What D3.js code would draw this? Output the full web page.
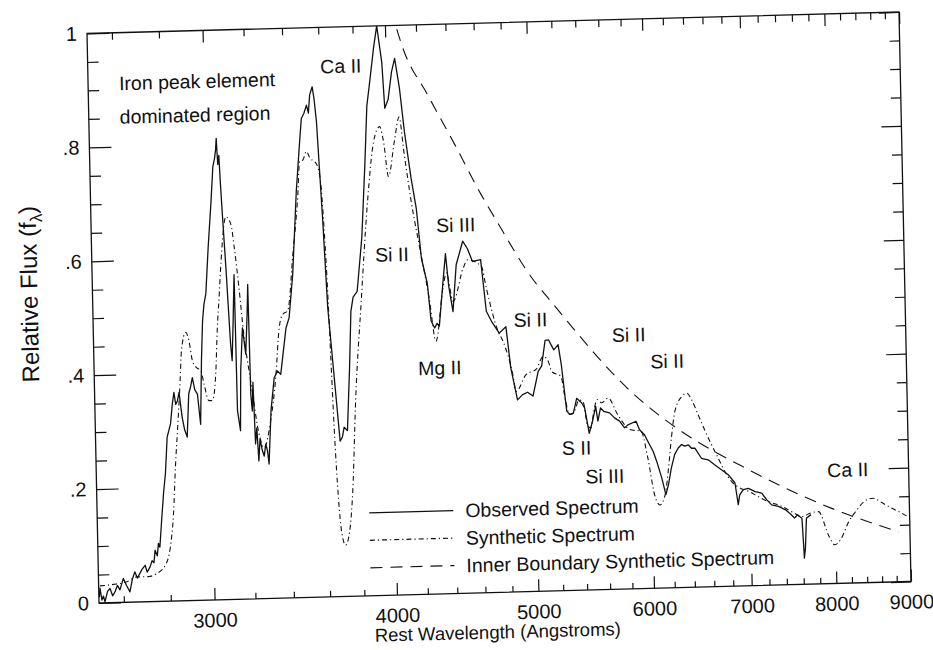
<!DOCTYPE html>
<html>
<head>
<meta charset="utf-8">
<script src="https://cdn.jsdelivr.net/npm/d3@7"></script>
<style>
  body { margin: 0; background: #fff; }
  text { font-family: "Liberation Sans", Arial, Helvetica, sans-serif; fill: #111; }
</style>
</head>
<body>
<svg id="chart" width="933" height="650"></svg>
<script>
// Observed spectrum [wavelength (A), relative flux]
const observed = [
  [2502,0.010],[2505,0.026],[2512,0.005],[2518,0.012],[2524,0.002],[2535,0.020],[2545,0.025],[2555,0.012],
  [2565,0.019],[2575,0.030],[2585,0.022],[2600,0.042],[2612,0.030],[2626,0.018],[2637,0.040],[2648,0.053],
  [2658,0.042],[2669,0.050],[2680,0.058],[2692,0.064],[2700,0.052],[2713,0.061],[2722,0.072],[2730,0.068],
  [2736,0.090],[2745,0.080],[2751,0.102],[2757,0.095],[2767,0.142],[2778,0.190],[2788,0.224],[2799,0.288],
  [2815,0.311],[2825,0.346],[2833,0.366],[2840,0.345],[2848,0.351],[2856,0.366],[2868,0.322],[2878,0.300],
  [2889,0.287],[2900,0.363],[2909,0.375],[2918,0.391],[2928,0.370],[2940,0.362],[2952,0.309],[2962,0.420],
  [2971,0.490],[2979,0.519],[2989,0.537],[3005,0.620],[3023,0.700],[3035,0.760],[3044,0.775],[3050,0.790],
  [3054,0.810],[3059,0.764],[3065,0.780],[3070,0.729],[3077,0.670],[3088,0.582],[3103,0.448],[3109,0.419],
  [3118,0.490],[3127,0.570],[3130,0.331],[3143,0.296],[3150,0.400],[3163,0.476],[3177,0.430],[3188,0.500],
  [3194,0.552],[3198,0.360],[3204,0.330],[3210,0.380],[3217,0.272],[3225,0.300],[3232,0.242],[3240,0.280],
  [3251,0.260],[3260,0.250],[3269,0.271],[3277,0.260],[3284,0.236],[3300,0.330],[3320,0.387],[3338,0.399],
  [3355,0.393],[3370,0.430],[3388,0.474],[3406,0.492],[3430,0.567],[3459,0.713],[3483,0.800],[3495,0.841],
  [3510,0.850],[3525,0.864],[3535,0.850],[3544,0.882],[3559,0.896],[3568,0.875],[3579,0.835],[3591,0.747],
  [3603,0.659],[3621,0.507],[3650,0.384],[3676,0.273],[3690,0.280],[3701,0.297],[3720,0.291],[3740,0.400],
  [3755,0.500],[3770,0.525],[3795,0.535],[3830,0.630],[3858,0.760],[3877,0.860],[3899,0.905],[3925,0.960],
  [3948,1.000],[3975,0.936],[3988,0.855],[4010,0.870],[4035,0.918],[4057,0.942],[4084,0.889],[4110,0.813],
  [4147,0.731],[4177,0.678],[4204,0.590],[4240,0.545],[4260,0.480],[4283,0.467],[4300,0.475],[4315,0.470],
  [4345,0.545],[4367,0.597],[4385,0.540],[4411,0.495],[4440,0.577],[4489,0.618],[4521,0.605],[4556,0.582],
  [4615,0.585],[4649,0.494],[4688,0.475],[4741,0.455],[4792,0.466],[4823,0.393],[4869,0.337],[4909,0.346],
  [4948,0.350],[4990,0.343],[5035,0.386],[5063,0.395],[5095,0.440],[5122,0.441],[5164,0.423],[5200,0.432],
  [5223,0.397],[5260,0.315],[5286,0.309],[5315,0.311],[5345,0.337],[5386,0.329],[5411,0.320],[5446,0.275],
  [5476,0.296],[5506,0.322],[5523,0.296],[5548,0.319],[5575,0.313],[5627,0.310],[5670,0.301],[5715,0.295],
  [5759,0.283],[5790,0.288],[5865,0.294],[5896,0.279],[5941,0.270],[5972,0.258],[6020,0.240],[6051,0.223],
  [6097,0.193],[6133,0.164],[6160,0.181],[6191,0.210],[6227,0.234],[6263,0.245],[6297,0.251],[6330,0.248],
  [6364,0.250],[6396,0.244],[6430,0.244],[6494,0.226],[6563,0.223],[6629,0.214],[6700,0.205],[6771,0.196],
  [6841,0.181],[6872,0.143],[6890,0.160],[6930,0.169],[6986,0.171],[7060,0.165],[7133,0.162],[7190,0.150],
  [7243,0.141],[7320,0.138],[7398,0.132],[7460,0.124],[7506,0.117],[7543,0.122],[7594,0.116],[7606,0.075],
  [7614,0.046],[7629,0.064],[7648,0.116],[7704,0.122]
];

// Synthetic spectrum
const synthetic = [
  [2505,0.030],[2560,0.032],[2614,0.036],[2657,0.044],[2705,0.044],[2741,0.049],[2779,0.063],[2803,0.095],
  [2820,0.153],[2833,0.235],[2849,0.316],[2862,0.386],[2871,0.439],[2892,0.471],[2906,0.456],[2920,0.421],
  [2940,0.408],[2958,0.403],[2972,0.379],[2993,0.350],[3009,0.350],[3028,0.396],[3040,0.475],[3053,0.536],
  [3065,0.594],[3093,0.672],[3117,0.658],[3131,0.617],[3150,0.547],[3169,0.465],[3199,0.383],[3236,0.289],
  [3260,0.265],[3297,0.312],[3328,0.387],[3352,0.475],[3372,0.498],[3399,0.504],[3433,0.602],[3467,0.707],
  [3481,0.766],[3499,0.768],[3519,0.783],[3540,0.770],[3564,0.765],[3583,0.753],[3598,0.718],[3611,0.636],
  [3623,0.531],[3633,0.414],[3643,0.300],[3660,0.170],[3673,0.116],[3695,0.090],[3721,0.115],[3744,0.185],
  [3772,0.343],[3818,0.517],[3869,0.692],[3914,0.797],[3953,0.823],[3976,0.796],[4002,0.735],[4044,0.796],
  [4078,0.839],[4104,0.778],[4145,0.690],[4200,0.600],[4250,0.520],[4290,0.444],[4345,0.537],[4371,0.563],
  [4413,0.513],[4489,0.571],[4521,0.585],[4620,0.573],[4653,0.534],[4733,0.458],[4769,0.440],[4837,0.382],
  [4860,0.352],[4939,0.381],[5020,0.390],[5078,0.412],[5118,0.403],[5143,0.385],[5219,0.376],[5244,0.344],
  [5282,0.309],[5315,0.311],[5367,0.334],[5400,0.330],[5432,0.290],[5461,0.284],[5491,0.316],[5522,0.334],
  [5560,0.328],[5616,0.336],[5701,0.306],[5805,0.280],[5911,0.276],[5968,0.229],[6025,0.164],[6074,0.146],
  [6126,0.164],[6164,0.210],[6198,0.263],[6237,0.309],[6308,0.335],[6360,0.341],[6407,0.329],[6471,0.302],
  [6535,0.275],[6600,0.250],[6669,0.225],[6734,0.202],[6804,0.184],[7020,0.163],[7205,0.147],[7360,0.138],
  [7507,0.125],[7594,0.119],[7705,0.125],[7798,0.127],[7912,0.086],[7992,0.068],[8076,0.079],[8175,0.108],
  [8266,0.125],[8385,0.143],[8497,0.148],[8628,0.139],[8762,0.129],[8896,0.120],[9000,0.112]
];

// Inner boundary synthetic spectrum
const innerBoundary = [
  [4075,0.993],[4105,0.965],[4270,0.876],[4450,0.787],[4631,0.698],[4727,0.657],[5021,0.544],[5128,0.514],
  [5859,0.340],[6135,0.296],[6299,0.274],[6990,0.204],[7962,0.132],[8839,0.088]
];

// Axis ticks
const xMajor = [3000, 4000, 5000, 6000, 7000, 8000, 9000];
const xMinor = d3.range(2600, 9000, 200).filter(v => v % 1000 !== 0);
const yMajor = [0, 0.2, 0.4, 0.6, 0.8, 1];
const yMajorLabels = ["0", ".2", ".4", ".6", ".8", "1"];
const yMinor = d3.range(0.05, 1, 0.05).filter(v => Math.abs(v * 5 - Math.round(v * 5)) > 1e-6);

// Line identifications, anchored at [wavelength, flux]
const lineIds = [
  {text: "Iron peak element", wave: 2625, flux: 0.899},
  {text: "dominated region", wave: 2625, flux: 0.840},
  {text: "Ca II", wave: 3607, flux: 0.919},
  {text: "Si II", wave: 3909, flux: 0.586},
  {text: "Si III", wave: 4308, flux: 0.635},
  {text: "Mg II", wave: 4167, flux: 0.385},
  {text: "Si II", wave: 4852, flux: 0.465},
  {text: "Si II", wave: 5662, flux: 0.434},
  {text: "Si II", wave: 6011, flux: 0.386},
  {text: "S II", wave: 5214, flux: 0.238},
  {text: "Si III", wave: 5404, flux: 0.187},
  {text: "Ca II", wave: 7915, flux: 0.187}
];

const legendItems = [
  {label: "Observed Spectrum", dash: null},
  {label: "Synthetic Spectrum", dash: "5,3,1.2,3"},
  {label: "Inner Boundary Synthetic Spectrum", dash: "12,8"}
];

const W = 812, H = 569.5;
const FONT = 19.5;
const INK = "#111";

const svg = d3.select("#chart");
// the scanned figure sits slightly tilted on the page
const g = svg.append("g")
    .attr("transform", "matrix(1,-0.02648,0.02107,1,87,33.5)");

const x = d3.scaleLog().domain([2500, 9000]).range([0, W]);
const y = d3.scaleLinear().domain([0, 1]).range([H, 0]);

g.append("defs").append("clipPath").attr("id", "plot-clip")
  .append("rect").attr("width", W).attr("height", H);

// frame
g.append("rect")
    .attr("width", W).attr("height", H)
    .attr("fill", "none").attr("stroke", INK).attr("stroke-width", 1.3);

function styleAxis(sel) {
  sel.select(".domain").remove();
  sel.selectAll("line").attr("stroke", INK).attr("stroke-width", 1.2);
  sel.selectAll("text")
      .style("font-family", '"Liberation Sans", Arial, sans-serif')
      .style("font-size", "20px").attr("fill", INK);
}

// bottom
g.append("g").attr("transform", `translate(0,${H})`)
  .call(d3.axisBottom(x).tickValues(xMajor).tickFormat(d3.format("d"))
      .tickSizeInner(-12).tickSizeOuter(0).tickPadding(13))
  .call(styleAxis);
g.append("g").attr("transform", `translate(0,${H})`)
  .call(d3.axisBottom(x).tickValues(xMinor).tickFormat("").tickSizeInner(-6).tickSizeOuter(0))
  .call(styleAxis);
// top
g.append("g")
  .call(d3.axisTop(x).tickValues(xMajor).tickFormat("").tickSizeInner(-12).tickSizeOuter(0))
  .call(styleAxis);
g.append("g")
  .call(d3.axisTop(x).tickValues(xMinor).tickFormat("").tickSizeInner(-7).tickSizeOuter(0))
  .call(styleAxis);
// left
g.append("g")
  .call(d3.axisLeft(y).tickValues(yMajor).tickFormat((d, i) => yMajorLabels[i])
      .tickSizeInner(-22).tickSizeOuter(0).tickPadding(10))
  .call(styleAxis);
g.append("g")
  .call(d3.axisLeft(y).tickValues(yMinor).tickFormat("").tickSizeInner(-11).tickSizeOuter(0))
  .call(styleAxis);
// right
g.append("g").attr("transform", `translate(${W},0)`)
  .call(d3.axisRight(y).tickValues(yMajor).tickFormat("").tickSizeInner(-20).tickSizeOuter(0))
  .call(styleAxis);
g.append("g").attr("transform", `translate(${W},0)`)
  .call(d3.axisRight(y).tickValues(yMinor).tickFormat("").tickSizeInner(-10).tickSizeOuter(0))
  .call(styleAxis);

// axis titles
g.append("text")
    .attr("x", 398).attr("y", H + 46)
    .attr("text-anchor", "middle")
    .style("font-size", "18.5px")
    .text("Rest Wavelength (Angstroms)");

const yTitle = g.append("text")
    .attr("transform", `translate(-55,259) rotate(-90)`)
    .attr("text-anchor", "middle")
    .style("font-size", "24px");
yTitle.append("tspan").text("Relative Flux (f");
yTitle.append("tspan").attr("dy", 6).style("font-size", "17px").text("λ");
yTitle.append("tspan").attr("dy", -6).text(")");

// spectra
const plot = g.append("g").attr("clip-path", "url(#plot-clip)");

const lineLinear = d3.line().x(d => x(d[0])).y(d => y(d[1]));
const lineSmooth = d3.line().x(d => x(d[0])).y(d => y(d[1])).curve(d3.curveMonotoneX);

plot.append("path")
    .attr("d", lineSmooth(innerBoundary))
    .attr("fill", "none").attr("stroke", INK).attr("stroke-width", 1.1)
    .attr("stroke-dasharray", "12,8");

plot.append("path")
    .attr("d", lineSmooth(synthetic))
    .attr("fill", "none").attr("stroke", INK).attr("stroke-width", 1.1)
    .attr("stroke-dasharray", "5,3,1.2,3");

plot.append("path")
    .attr("d", lineLinear(observed))
    .attr("fill", "none").attr("stroke", INK).attr("stroke-width", 1.3)
    .attr("stroke-linejoin", "round");

// line identifications
g.selectAll(".line-id")
  .data(lineIds)
  .enter()
  .append("text")
    .attr("class", "line-id")
    .attr("x", d => x(d.wave))
    .attr("y", d => y(d.flux))
    .style("font-size", FONT + "px")
    .text(d => d.text);

// legend
const legend = g.append("g").attr("transform", "translate(272,486.5)");
legendItems.forEach((item, i) => {
  const row = legend.append("g").attr("transform", `translate(0,${i * 27.5})`);
  row.append("line")
      .attr("x1", 0).attr("x2", 84)
      .attr("stroke", INK).attr("stroke-width", 1.2)
      .attr("stroke-dasharray", item.dash);
  row.append("text")
      .attr("x", 96).attr("y", 7)
      .style("font-size", FONT + "px")
      .text(item.label);
});
</script>
</body>
</html>
